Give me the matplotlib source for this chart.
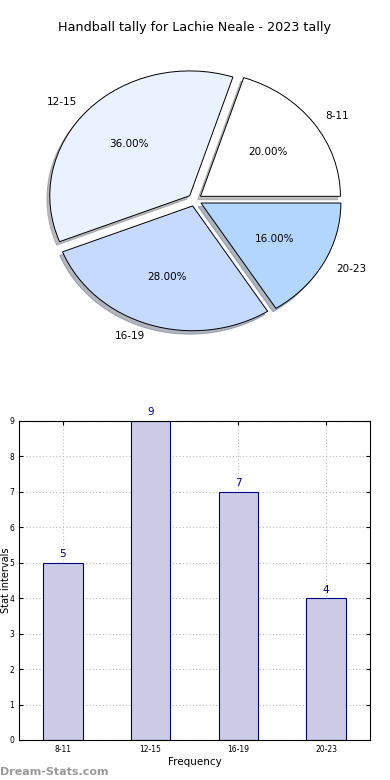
import matplotlib
matplotlib.use('Agg')
import matplotlib.pyplot as plt

categories = ['8-11', '12-15', '16-19', '20-23']
counts = [5, 9, 7, 4]
pie_colors = ['#ffffff', '#eaf1ff', '#c6d9ff', '#b3d6ff']

fig = plt.figure(figsize=(3.9, 7.8), dpi=100)

# pie chart
ax1 = fig.add_axes([0.051, 0.5436, 0.897, 0.4])
ax1.pie(counts, labels=categories, colors=pie_colors, autopct='%1.2f%%',
        explode=[0.05] * 4, shadow={'ox': -0.015, 'oy': -0.02, 'shade': 0.5},
        startangle=0,
        wedgeprops={'edgecolor': 'black', 'linewidth': 0.7},
        textprops={'fontsize': 7.5})
ax1.set_aspect('auto')
ax1.set_xlim(-1.25, 1.25)
ax1.set_ylim(-1.25, 1.25)
ax1.set_title('Handball tally for Lachie Neale - 2023 tally', fontsize=9.2, pad=9)

# bar chart
ax2 = fig.add_axes([0.0487, 0.0513, 0.9, 0.409])
x = range(len(categories))
ax2.bar(x, counts, width=0.45, color='#ccccE6', edgecolor='navy', linewidth=0.8, zorder=2)
for i, v in enumerate(counts):
    ax2.text(i, v + 0.1, str(v), ha='center', va='bottom', color='navy', fontsize=7.5)
ax2.set_xlim(-0.5, 3.5)
ax2.set_ylim(0, 9)
ax2.set_xticks(list(x))
ax2.set_xticklabels(categories)
ax2.set_yticks(range(10))
ax2.tick_params(labelsize=5.5, direction='in', top=True, right=True, length=3)
ax2.grid(True, linestyle=(0, (1, 2)), color='#bbbbbb', linewidth=0.8, zorder=0)
ax2.set_xlabel('Frequency', fontsize=7.5, labelpad=2)
ax2.set_ylabel('Stat intervals', fontsize=7)
ax2.yaxis.set_label_coords(-0.024, 0.5)

fig.text(0.0, 0.007, 'Dream-Stats.com', color='gray', fontsize=8, fontweight='bold', alpha=0.8)

fig.savefig('out.png', dpi=100)
